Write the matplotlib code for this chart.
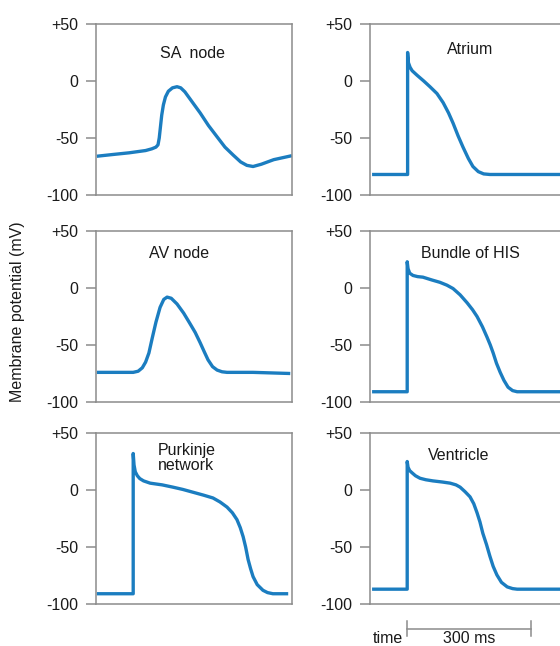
import matplotlib
matplotlib.use('Agg')
import matplotlib.pyplot as plt
import matplotlib.transforms as mtransforms

plt.rcParams['font.family'] = ['Liberation Sans', 'DejaVu Sans']
plt.rcParams['font.size'] = 11.5

# Potenciales de accion (tiempo en ms, potencial en mV)
sa_t = [2, 40, 80, 120, 135, 145, 150, 153, 156, 159, 163, 168, 175, 185, 196, 205, 215, 230, 252, 272, 293, 312, 332, 350, 365, 380, 400, 430, 474]
sa_v = [-66, -64.5, -63, -61, -59.5, -58, -56, -50, -40, -30, -21, -14, -9, -6, -5, -6, -9.5, -17, -28, -39, -49, -58, -65, -71, -74, -75, -73, -69, -65.5]

atrio_t = [5, 91, 91, 93, 97, 102, 114, 130, 145, 162, 177, 190, 201, 213, 225, 238, 249, 262, 275, 290, 320, 474]
atrio_v = [-82, -82, 25, 16, 12, 9, 5, 0, -5, -11, -19, -28, -37, -48, -58, -68, -75, -79.5, -81.5, -82, -82, -82]

av_t = [2, 60, 90, 102, 112, 120, 128, 136, 145, 155, 164, 172, 182, 196, 212, 227, 240, 252, 262, 271, 282, 293, 305, 317, 380, 470]
av_v = [-74, -74, -74, -73, -70, -65, -57, -44, -30, -17, -10, -8, -9, -14, -22, -31, -39, -48, -56, -63, -69, -72, -73.5, -74, -74, -75]

his_t = [5, 90, 90, 92, 96, 104, 115, 128, 150, 169, 186, 201, 218, 235, 248, 259, 272, 283, 291, 298, 306, 315, 324, 334, 345, 356, 380, 474]
his_v = [-91, -91, 23, 17, 13, 11, 10, 9.5, 7, 5, 2.5, -0.5, -6, -13, -19, -25, -34, -43, -50, -57, -66, -74, -81, -87, -90, -91, -91, -91]

purk_t = [2, 90, 90, 92, 95, 100, 106, 115, 131, 160, 186, 210, 235, 260, 283, 300, 317, 330, 341, 349, 356, 362, 368, 374, 380, 390, 404, 415, 428, 465]
purk_v = [-91, -91, 32, 22, 16, 12.5, 10, 8, 6, 4.5, 2.5, 0.5, -2, -4.5, -7, -10.5, -15, -20, -26, -33, -41, -50, -61, -69, -76, -83, -88, -90, -91, -91]

vent_t = [5, 90, 90, 92, 96, 102, 110, 121, 135, 152, 175, 194, 208, 218, 230, 242, 251, 259, 266, 273, 282, 290, 298, 307, 318, 332, 345, 356, 380, 474]
vent_v = [-87, -87, 25, 20, 17, 15, 12.5, 10.3, 9, 8, 7, 6, 4.5, 2.5, -1.5, -6, -12, -20, -28, -38, -48, -58, -67, -74.5, -81, -85, -86.5, -87, -87, -87]

nombres = ['SA  node', 'Atrium', 'AV node', 'Bundle of HIS', 'Purkinje\nnetwork', 'Ventricle']
tiempos = [sa_t, atrio_t, av_t, his_t, purk_t, vent_t]
voltajes = [sa_v, atrio_v, av_v, his_v, purk_v, vent_v]

ticks_mv = [-100, -50, 0, 50]
ticks_txt = ['-100', '-50', '0', '+50']

escala_ms = 300
inicio_escala = 90

gris = '#8c8c8c'
azul = '#1b7dc0'

fig = plt.figure(figsize=(5.6, 6.46), dpi=100)

# posiciones de los ejes (en pixeles de la figura)
izq = [96, 370]
arriba = [24, 231, 433]
ancho, alto = 196, 171
W, H = 560, 646

# posicion de las etiquetas (fraccion de ejes)
pos_txt = [(0.49, 0.83, 'center'), (0.51, 0.848, 'center'),
           (0.423, 0.871, 'center'), (0.51, 0.871, 'center'),
           (0.316, 0.851, 'left'), (0.454, 0.866, 'center')]

ejes = []
for i in range(6):
    fila, col = i // 2, i % 2
    ax = fig.add_axes([izq[col] / W, 1 - (arriba[fila] + alto) / H, ancho / W, alto / H])
    ax.plot(tiempos[i], voltajes[i], color=azul, lw=2.4, solid_capstyle='butt')
    ax.set_xlim(0, ancho * escala_ms / 124)
    ax.set_ylim(-100, 50)
    ax.set_xticks([])
    ax.set_yticks(ticks_mv)
    ax.set_yticklabels(ticks_txt)
    ax.tick_params(axis='y', length=7, width=1.1, color=gris, pad=5.5, labelcolor='#1a1a1a')
    for s in ax.spines.values():
        s.set_color(gris)
        s.set_linewidth(1.1)
    x, y, ha = pos_txt[i]
    ax.text(x, y, nombres[i], transform=ax.transAxes, ha=ha, va='center',
            color='#1a1a1a', linespacing=1.0)
    ejes.append(ax)

fig.text(18 / W, 1 - 312 / H, 'Membrane potential (mV)', rotation=90,
         ha='center', va='center', color='#1a1a1a')

# barra de escala de tiempo
ax = ejes[5]
tr = mtransforms.blended_transform_factory(ax.transData, ax.transAxes)
fin_escala = inicio_escala + escala_ms
ax.plot([inicio_escala, fin_escala], [-0.146, -0.146], color=gris, lw=1.1, transform=tr, clip_on=False)
for xb in [inicio_escala, fin_escala]:
    ax.plot([xb, xb], [-0.10, -0.19], color=gris, lw=1.1, transform=tr, clip_on=False)
ax.text((inicio_escala + fin_escala) / 2, -0.244, '300 ms', transform=tr, ha='center',
        va='bottom', color='#1a1a1a')
ax.text(inicio_escala - 9, -0.244, 'time', transform=tr, ha='right',
        va='bottom', color='#1a1a1a')

fig.savefig('out.png', dpi=100)
